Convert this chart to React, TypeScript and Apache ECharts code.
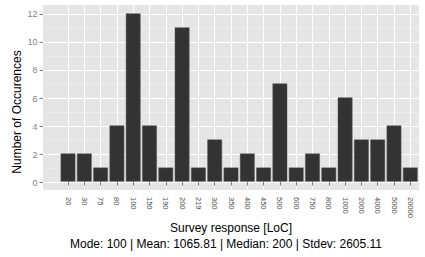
import React, { useEffect, useRef } from "react";
import * as echarts from "echarts";

const categories = ["20", "30", "75", "80", "100", "150", "190", "200", "219", "300", "350", "400", "450", "500", "600", "750", "800", "1000", "2000", "4000", "5000", "20000"];
const counts = [2, 2, 1, 4, 12, 4, 1, 11, 1, 3, 1, 2, 1, 7, 1, 2, 1, 6, 3, 3, 4, 1];
const yTicks = [0, 2, 4, 6, 8, 10, 12];
const xTitle = "Survey response [LoC]";
const yTitle = "Number of Occurences";
const subtitle = "Mode: 100 | Mean: 1065.81 | Median: 200 | Stdev: 2605.11";

const FONT = "Liberation Sans, Arial, Helvetica, sans-serif";

export default function App() {
  const ref = useRef<HTMLDivElement>(null);
  useEffect(() => {
    document.body.style.margin = "0";
    const chart = echarts.init(ref.current!, null, { renderer: "svg" });
    const barData = counts.map((v, i) => [i, v]);
    chart.setOption({
      animation: false,
      textStyle: { fontFamily: FONT },
      grid: [
        { left: 43, top: 5, width: 376, height: 185, show: true, backgroundColor: "#E5E5E5", borderWidth: 0 },
        { left: 43, top: 14.3, width: 376, height: 168.4, show: false },
        { left: 68, top: 5, width: 342.3, height: 185, show: false },
      ],
      xAxis: [
        { gridIndex: 1, type: "value", min: 0, max: 1, show: false },
        {
          gridIndex: 2,
          type: "value",
          min: 0,
          max: categories.length - 1,
          interval: 1,
          position: "bottom",
          axisLine: { show: false },
          axisTick: { show: true, length: 4, lineStyle: { color: "#7F7F7F", width: 1 } },
          axisLabel: {
            rotate: -90,
            margin: 7,
            fontSize: 7.5,
            color: "#4D4D4D",
            fontFamily: FONT,
            formatter: (v: number) => categories[v] ?? "",
          },
          splitLine: { show: true, lineStyle: { color: "#FFFFFF", width: 1 } },
        },
      ],
      yAxis: [
        {
          gridIndex: 1,
          type: "value",
          min: yTicks[0],
          max: yTicks[yTicks.length - 1],
          interval: 2,
          axisLine: { show: false },
          axisTick: { show: true, length: 3.5, lineStyle: { color: "#7F7F7F", width: 1 } },
          axisLabel: { margin: 5.5, fontSize: 9, color: "#7F7F7F", fontFamily: FONT },
          splitLine: { show: true, lineStyle: { color: "#FFFFFF", width: 1 } },
          minorTick: { show: false, splitNumber: 2 },
          minorSplitLine: { show: true, lineStyle: { color: "#F2F2F2", width: 0.6 } },
        },
        { gridIndex: 2, type: "value", min: -0.6, max: 12.6, show: false },
      ],
      series: [
        {
          type: "bar",
          xAxisIndex: 1,
          yAxisIndex: 1,
          data: barData,
          barWidth: 14.7,
          clip: false,
          itemStyle: { color: "#333333", borderColor: "#555555", borderWidth: 0.5 },
          z: 5,
        },
      ],
      graphic: [
        {
          type: "text",
          x: 17,
          y: 112,
          rotation: Math.PI / 2,
          style: { text: yTitle, font: `12px ${FONT}`, fill: "#000", textAlign: "center", textVerticalAlign: "middle" },
        },
        {
          type: "text",
          x: 231,
          y: 228,
          style: { text: xTitle, font: `12px ${FONT}`, fill: "#000", textAlign: "center", textVerticalAlign: "middle" },
        },
        {
          type: "text",
          x: 226,
          y: 244,
          style: { text: subtitle, font: `12px ${FONT}`, fill: "#000", textAlign: "center", textVerticalAlign: "middle" },
        },
      ],
    });
    return () => chart.dispose();
  }, []);
  return <div ref={ref} style={{ width: 425, height: 257 }} />;
}
